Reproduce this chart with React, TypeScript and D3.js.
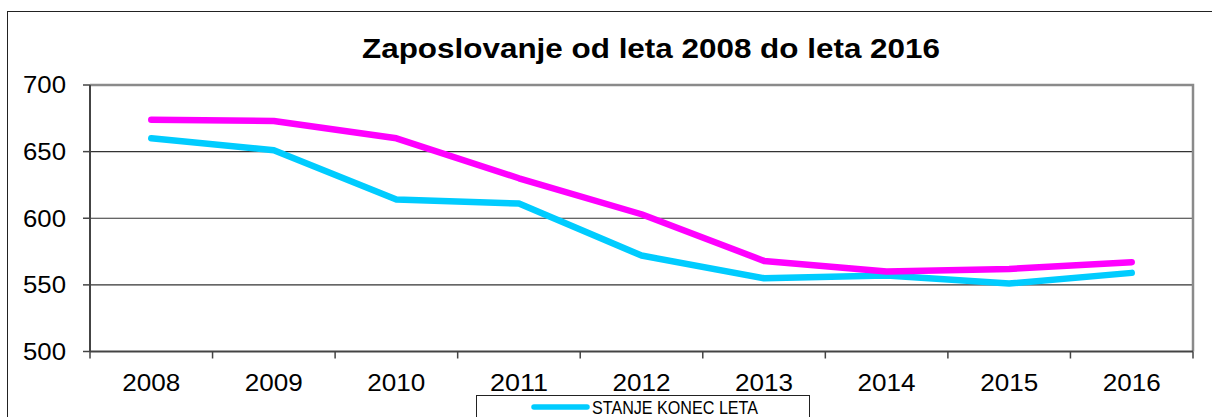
import React from "react";
import * as d3 from "d3";

const years = ["2008", "2009", "2010", "2011", "2012", "2013", "2014", "2015", "2016"];
const stanjeKonecLeta = [660, 651, 614, 611, 572, 555, 557, 551, 559];
const drugaVrsta = [674, 673, 660, 630, 603, 568, 560, 562, 567];
const yTicks = [500, 550, 600, 650, 700];

const title = "Zaposlovanje od leta 2008 do leta 2016";
const legendLabel = "STANJE KONEC LETA";

const W = 1212;
const H = 417;
const plot = { left: 90, right: 1193, top: 85, bottom: 351.5 };
const font = "'Liberation Sans', Arial, sans-serif";

const App = () => {
  const x = d3.scaleBand<string>().domain(years).range([plot.left, plot.right]).padding(0);
  const y = d3.scaleLinear().domain([500, 700]).range([plot.bottom, plot.top]);

  const line = d3
    .line<number>()
    .x((_, i) => (x(years[i]) as number) + x.bandwidth() / 2)
    .y((d) => y(d));

  return (
    <svg
      width={W}
      height={H}
      viewBox={`0 0 ${W} ${H}`}
      style={{ position: "fixed", left: 0, top: 0, background: "#fff" }}
    >
      <rect x={0} y={0} width={W} height={H} fill="#fff" />
      {/* outer chart border */}
      <rect x={7.5} y={11.5} width={W + 20} height={H + 20} fill="none" stroke="#222" strokeWidth={1} />

      <text
        x={651}
        y={57.5}
        textAnchor="middle"
        fontFamily={font}
        fontWeight="bold"
        fontSize={27.5}
        textLength={578}
        lengthAdjust="spacingAndGlyphs"
        fill="#000"
      >
        {title}
      </text>

      {/* gridlines */}
      {yTicks.slice(1, -1).map((t) => (
        <line key={t} x1={plot.left} x2={plot.right} y1={y(t)} y2={y(t)} stroke="#333" strokeWidth={1.2} />
      ))}

      {/* plot frame top/right */}
      <path
        d={`M${plot.left},${plot.top}H${plot.right}V${plot.bottom}`}
        fill="none"
        stroke="#8a8a8a"
        strokeWidth={2.5}
      />

      {/* axes */}
      <line x1={plot.left} x2={plot.left} y1={plot.top} y2={plot.bottom} stroke="#444" strokeWidth={2} />
      <line x1={plot.left} x2={plot.right} y1={plot.bottom} y2={plot.bottom} stroke="#444" strokeWidth={2} />

      {yTicks.map((t) => (
        <g key={t}>
          <line x1={plot.left - 7} x2={plot.left} y1={y(t)} y2={y(t)} stroke="#444" strokeWidth={1.5} />
          <text
            x={66}
            y={y(t)}
            dy="0.36em"
            textAnchor="end"
            fontFamily={font}
            fontSize={23}
            textLength={43}
            lengthAdjust="spacingAndGlyphs"
            fill="#000"
          >
            {t}
          </text>
        </g>
      ))}

      {years.map((yr) => (
        <line
          key={"t" + yr}
          x1={x(yr) as number}
          x2={x(yr) as number}
          y1={plot.bottom}
          y2={plot.bottom + 7}
          stroke="#444"
          strokeWidth={1.5}
        />
      ))}
      <line x1={plot.right} x2={plot.right} y1={plot.bottom} y2={plot.bottom + 7} stroke="#444" strokeWidth={1.5} />

      {years.map((yr) => (
        <text
          key={"l" + yr}
          x={(x(yr) as number) + x.bandwidth() / 2}
          y={391}
          textAnchor="middle"
          fontFamily={font}
          fontSize={23}
          textLength={58}
          lengthAdjust="spacingAndGlyphs"
          fill="#000"
        >
          {yr}
        </text>
      ))}

      <path
        d={line(stanjeKonecLeta) || ""}
        fill="none"
        stroke="#00ccff"
        strokeWidth={6.5}
        strokeLinecap="round"
        strokeLinejoin="round"
      />
      <path
        d={line(drugaVrsta) || ""}
        fill="none"
        stroke="#ff00ff"
        strokeWidth={6.5}
        strokeLinecap="round"
        strokeLinejoin="round"
      />

      {/* legend (cut off at the bottom) */}
      <rect x={476.5} y={395.5} width={333} height={40} fill="#fff" stroke="#222" strokeWidth={1} />
      <line x1={534} x2={587} y1={407} y2={407} stroke="#00ccff" strokeWidth={5.5} strokeLinecap="round" />
      <text
        x={592}
        y={414}
        fontFamily={font}
        fontSize={19}
        textLength={166}
        lengthAdjust="spacingAndGlyphs"
        fill="#000"
      >
        {legendLabel}
      </text>
    </svg>
  );
};

export default App;
